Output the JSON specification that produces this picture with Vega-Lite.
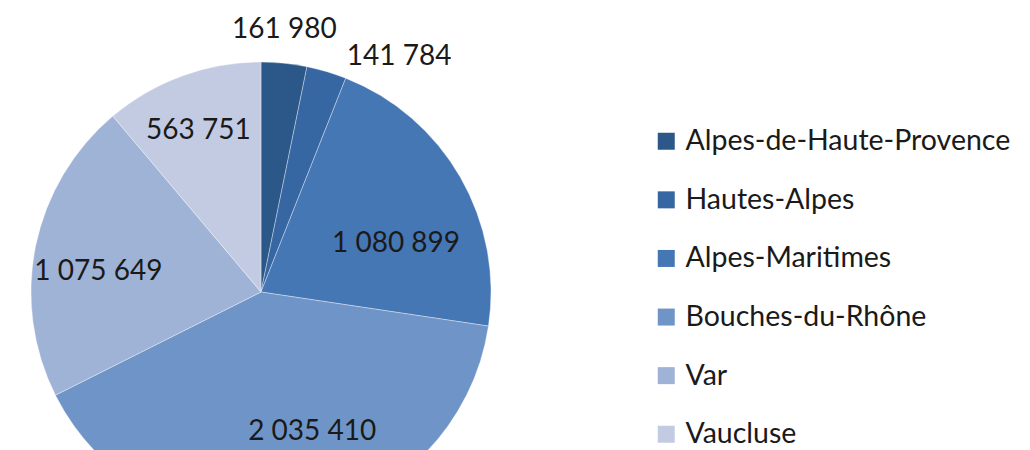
{
  "$schema": "https://vega.github.io/schema/vega-lite/v6.json",
  "width": 522,
  "height": 316,
  "autosize": {"type": "none"},
  "padding": {"top": 134, "left": 0, "right": 508, "bottom": 0},
  "background": "white",
  "config": {"view": {"stroke": null}, "font": "Lato"},
  "data": {
    "values": [
      {"rank": 1, "departement": "Alpes-de-Haute-Provence", "population": 161980, "label": "161 980"},
      {"rank": 2, "departement": "Hautes-Alpes", "population": 141784, "label": "141 784"},
      {"rank": 3, "departement": "Alpes-Maritimes", "population": 1080899, "label": "1 080 899"},
      {"rank": 4, "departement": "Bouches-du-Rhône", "population": 2035410, "label": "2 035 410"},
      {"rank": 5, "departement": "Var", "population": 1075649, "label": "1 075 649"},
      {"rank": 6, "departement": "Vaucluse", "population": 563751, "label": "563 751"}
    ]
  },
  "encoding": {
    "theta": {"field": "population", "type": "quantitative", "stack": true},
    "order": {"field": "rank", "type": "quantitative", "sort": "ascending"}
  },
  "layer": [
    {
      "mark": {"type": "arc", "outerRadius": 230, "stroke": "white", "strokeWidth": 0.5, "strokeOpacity": 0.7},
      "encoding": {
        "color": {
          "field": "departement",
          "type": "nominal",
          "scale": {
            "domain": ["Alpes-de-Haute-Provence", "Hautes-Alpes", "Alpes-Maritimes", "Bouches-du-Rhône", "Var", "Vaucluse"],
            "range": ["#2c5789", "#3767a3", "#4677b5", "#6f95c8", "#9fb3d6", "#c2cbe2"]
          },
          "sort": ["Alpes-de-Haute-Provence", "Hautes-Alpes", "Alpes-Maritimes", "Bouches-du-Rhône", "Var", "Vaucluse"],
          "legend": {
            "title": null,
            "orient": "none",
            "legendX": 652,
            "legendY": -7,
            "symbolType": "square",
            "symbolSize": 289,
            "symbolStrokeWidth": 0,
            "labelFontSize": 28.5,
            "labelColor": "#1a1a1a",
            "labelFont": "Lato",
            "labelOffset": 5,
            "rowPadding": 29.6,
            "labelLimit": 400
          }
        }
      }
    },
    {
      "mark": {"type": "text", "radius": 263, "dx": -3, "fontSize": 28, "color": "#1a1a1a", "baseline": "middle", "align": "center"},
      "encoding": {"text": {"condition": {"test": "datum.rank === 1", "field": "label"}, "value": ""}}
    },
    {
      "mark": {"type": "text", "radius": 245, "dx": 16, "fontSize": 28, "color": "#1a1a1a", "baseline": "middle", "align": "left"},
      "encoding": {"text": {"condition": {"test": "datum.rank === 2", "field": "label"}, "value": ""}}
    },
    {
      "mark": {"type": "text", "radius": 150, "dx": 5, "dy": 27, "fontSize": 28, "color": "#1a1a1a", "baseline": "middle", "align": "center"},
      "encoding": {"text": {"condition": {"test": "datum.rank === 3", "field": "label"}, "value": ""}}
    },
    {
      "mark": {"type": "text", "radius": 147, "dx": 28, "dy": -5, "fontSize": 28, "color": "#1a1a1a", "baseline": "middle", "align": "center"},
      "encoding": {"text": {"condition": {"test": "datum.rank === 4", "field": "label"}, "value": ""}}
    },
    {
      "mark": {"type": "text", "radius": 164, "dx": -2, "dy": 13, "fontSize": 28, "color": "#1a1a1a", "baseline": "middle", "align": "center"},
      "encoding": {"text": {"condition": {"test": "datum.rank === 5", "field": "label"}, "value": ""}}
    },
    {
      "mark": {"type": "text", "radius": 174, "dx": -3, "dy": 2, "fontSize": 28, "color": "#1a1a1a", "baseline": "middle", "align": "center"},
      "encoding": {"text": {"condition": {"test": "datum.rank === 6", "field": "label"}, "value": ""}}
    }
  ]
}
